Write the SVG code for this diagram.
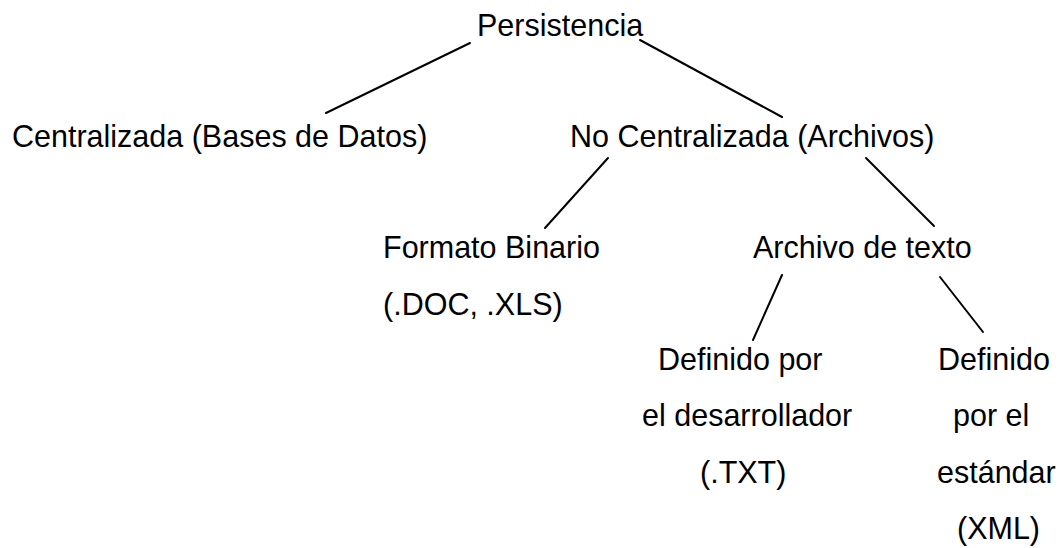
<svg xmlns="http://www.w3.org/2000/svg" width="1062" height="548" viewBox="0 0 1062 548">
<style>
text{font-family:"Liberation Sans",Arial,sans-serif;font-size:30.5px;fill:#000}
.c line{stroke:#000;stroke-width:2;stroke-linecap:round}
</style>
<rect width="1062" height="548" fill="#fff"/>
<g class="c" id="connectors">
<line x1="470" y1="43" x2="326" y2="113"/>
<line x1="640" y1="40" x2="782" y2="117"/>
<line x1="608" y1="158" x2="545" y2="228"/>
<line x1="866" y1="158" x2="934" y2="226"/>
<line x1="782" y1="275" x2="753" y2="340"/>
<line x1="940" y1="277" x2="983" y2="332"/>
</g>
<g id="persistencia"><text x="477" y="36">Persistencia</text></g>
<g id="centralizada"><text x="12" y="147">Centralizada (Bases de Datos)</text></g>
<g id="no-centralizada"><text x="570" y="147">No Centralizada (Archivos)</text></g>
<g id="binario"><text x="383" y="258">Formato Binario</text><text x="383" y="315">(.DOC, .XLS)</text></g>
<g id="texto"><text x="753" y="258">Archivo de texto</text></g>
<g id="desarrollador"><text x="658" y="370">Definido por</text><text x="642" y="426">el desarrollador</text><text x="700" y="483">(.TXT)</text></g>
<g id="estandar"><text x="938" y="370">Definido</text><text x="953" y="426">por el</text><text x="937" y="483">estándar</text><text x="957" y="539">(XML)</text></g>
</svg>
